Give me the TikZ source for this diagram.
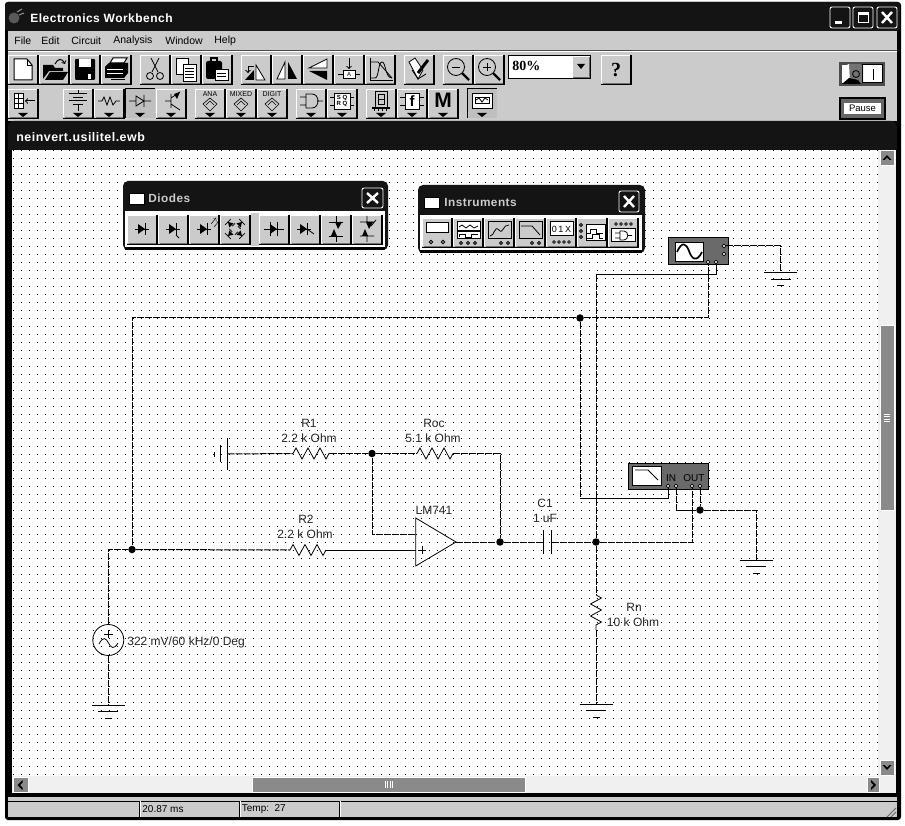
\documentclass[tikz,border=0pt]{standalone}
\usepackage{fontspec}
\setmainfont{Liberation Sans}
\newfontfamily\hardfont{Liberation Serif}
\newfontfamily\spacedfont[LetterSpace=4]{Liberation Sans}
\usetikzlibrary{shapes,arrows,positioning,calc,decorations.pathmorphing}
\definecolor{face}{HTML}{CBCBCB}
\definecolor{barblack}{HTML}{141414}
\definecolor{thumbgray}{HTML}{8A8A8A}
\definecolor{boxgray}{HTML}{6A6A6A}
\newcommand{\fs}[1]{\fontsize{#1}{#1}\selectfont}
% toolbar button, 30 wide and 29 high
\newcommand{\tbbtn}[3]{\begin{scope}[shift={(#1,#2)}]
  \fill[face] (0,0) rectangle (30,29);
  \draw[white] (0.5,28) -- (0.5,0.5) -- (29,0.5);
  \draw[black!55] (1.5,28) -- (29,28) -- (29,1);
  \draw[black,line width=1.1] (30,0) -- (30,29.5) -- (0,29.5);
  #3
\end{scope}}
% same with the small arrow below
\newcommand{\tbdrop}[3]{\tbbtn{#1}{#2}{#3\fill (10,24) -- (20,24) -- (15,28) -- cycle;}}
% diode symbol pointing right
\newcommand{\dio}[2]{\fill (#1-4,#2-5) -- (#1-4,#2+5) -- (#1+3,#2) -- cycle;
  \draw (#1+3,#2-6) -- (#1+3,#2+6) (#1-7,#2) -- (#1+7,#2);}
\newcommand{\gnd}[1]{\draw[bar] ($(#1)+(-16.5,0)$) -- ++(33,0);
  \draw[bar] ($(#1)+(-10,6.5)$) -- ++(20,0);
  \draw[bar] ($(#1)+(-3.5,13)$) -- ++(7,0);}
\begin{document}
\begin{tikzpicture}[x=1pt,y=-1pt,line width=0.8pt]
  \tikzstyle{griddot}=[black, line width=1pt, dash pattern=on 1pt off 7pt]
  \tikzstyle{wire}=[black, line width=1pt, dash pattern=on 7pt off 1pt]
  \tikzstyle{solidwire}=[black, line width=1pt]
  \tikzstyle{bar}=[black, line width=1pt]
  \tikzstyle{junction}=[circle, fill=black, inner sep=0pt, minimum size=7.5pt]
  \tikzstyle{port}=[circle, draw=black, fill=white, line width=0.7pt, inner sep=0pt, minimum size=3.6pt]
  \tikzstyle{partlabel}=[inner sep=0pt, font=\fs{12}, text=black!85]
  \tikzstyle{zigh}=[black, line width=0.8pt, decorate, decoration={zigzag, segment length=12pt, amplitude=5.5pt}]
  \tikzstyle{winbtn}=[draw=white, rounded corners=2pt, line width=0.9pt, fill=barblack]
  \tikzstyle{thumb}=[fill=thumbgray, draw=white, line width=0.7pt]
  \useasboundingbox (0,0) rectangle (905,826);

  % Window frame
  \fill[white] (0,0) rectangle (905,826);
  \fill[black, rounded corners=3pt] (5,2) rectangle (901,820);
  \fill[barblack, rounded corners=3pt] (5,2) rectangle (900,31);
  \fill[face] (8,31) rectangle (897,121);
  \draw[black!70, line width=1pt] (8,50.5) -- (897,50.5);
  \draw[white, line width=1pt] (8,52) -- (897,52);

  % Title bar
  \fill[black!65] (14,18) circle (5.5);
  \draw[black!40, line width=1pt] (17,12) -- (22,9) (19,15) -- (24,13);
  \node[anchor=west, inner sep=0pt, text=white, font=\fs{12}\bfseries\spacedfont] (title) at (30,18) {Electronics Workbench};
  \draw[winbtn] (830,7) rectangle (850,28);
  \draw[winbtn] (853,7) rectangle (873,28);
  \draw[winbtn] (877,7) rectangle (897,28);
  \fill[white] (835,21) rectangle (842,24);
  \draw[white, line width=1pt] (858,13) rectangle (868,23);
  \fill[white] (858,13) rectangle (868,15.5);
  \draw[white, line width=2.4pt] (882,12) -- (892,23) (892,12) -- (882,23);

  % Menu
  \foreach \xpos/\menuname in {14/File, 41/Edit, 71/Circuit, 113/Analysis, 165/Window, 214/Help}
    \node[anchor=west, inner sep=0pt, font=\fs{10.5}] at (\xpos,40.5) {\menuname};

  % Toolbar, first row
  \tbbtn{8}{55}{\draw[fill=white,line width=1pt] (6,4) -- (19,4) -- (24,10) -- (24,25) -- (6,25) -- cycle; \draw (19,4) -- (19,10) -- (24,10);}
  \tbbtn{39}{55}{\fill (4,24) -- (4,10) -- (14,10) -- (16,13) -- (24,13) -- (24,16) -- (10,16) -- cycle;
    \fill (6,25) -- (11,17) -- (29,17) -- (24,25) -- cycle; \draw[line width=1pt,->] (16,9) .. controls (19,3) and (23,3) .. (26,9);}
  \tbbtn{70}{55}{\fill[rounded corners=1pt] (5,4) rectangle (25,25); \fill[white] (9,4) rectangle (21,12); \fill[white] (18,19) rectangle (21,24);}
  \tbbtn{101}{55}{\draw[fill=white,line width=1pt] (9,8) -- (12,3) -- (26,3) -- (23,8) -- cycle;
    \fill (4,12) -- (8,8) -- (27,8) -- (27,18) -- (23,23) -- (4,23) -- cycle; \draw[white] (6,14) -- (22,14) (6,18) -- (22,18); \draw[line width=1pt] (10,25) -- (24,25);}
  \tbbtn{140}{55}{\draw (11,3) -- (18,17) (19,3) -- (12,17); \draw (10,21) circle (3.5) (20,21) circle (3.5);}
  \tbbtn{171}{55}{\draw[fill=white] (5,3) rectangle (17,19); \draw[fill=white] (12,9) rectangle (25,26);
    \foreach \ylin in {13,16,19,22} \draw (14,\ylin) -- (23,\ylin);}
  \tbbtn{202}{55}{\fill[rounded corners=2pt] (4,6) rectangle (20,24); \draw[black,line width=1.2pt,fill=face] (9,3) rectangle (15,7);
    \draw[fill=white] (13,14) rectangle (26,25); \draw (15,18) -- (24,18) (15,21) -- (24,21);}
  \tbbtn{241}{55}{\fill (4,25) -- (13,25) -- (13,15) -- cycle; \draw[fill=white] (15,25) -- (15,10) -- (24,25) -- cycle; \draw[line width=1pt,->] (13,12) -- (7,12) -- (7,18);}
  \tbbtn{272}{55}{\draw[fill=white] (13,7) -- (13,24) -- (5,24) -- cycle; \fill (16,7) -- (16,24) -- (25,24) -- cycle;}
  \tbbtn{303}{55}{\draw[fill=white] (24,4) -- (24,13) -- (6,13) -- cycle; \fill (24,16) -- (24,25) -- (6,16) -- cycle;}
  \tbbtn{334}{55}{\draw[line width=1pt,->] (15,3) -- (15,14); \draw[fill=white] (9,15) rectangle (21,23); \draw (4,19) -- (9,19) (21,19) -- (26,19);
    \node[inner sep=0pt, font=\fs{6}] at (15,19) {A};}
  \tbbtn{365}{55}{\draw (5,3) -- (5,25) -- (28,25); \draw (5,23) -- (10,23) .. controls (14,23) and (13,7) .. (17,7) .. controls (21,7) and (20,23) .. (27,23); \draw (5,7) -- (13,7) -- (27,23);}
  \tbbtn{404}{55}{\draw[fill=white] (5,7) -- (11,3) -- (19,15) -- (14,24) -- cycle; \draw[line width=3pt] (14,18) -- (24,5); \draw (8,15) -- (14,24) -- (22,19);}
  \tbbtn{443}{55}{\draw (13,12) circle (8.5); \draw (9,12) -- (17,12); \draw[line width=2.2pt] (19,18) -- (26,25);}
  \tbbtn{474}{55}{\draw (13,12) circle (8.5); \draw (9,12) -- (17,12) (13,8) -- (13,16); \draw[line width=2.2pt] (19,18) -- (26,25);}
  \draw[fill=white, line width=1pt] (508.5,55.5) rectangle (590.5,78.5);
  \node[anchor=west, inner sep=0pt, font=\fs{14}\bfseries\hardfont] (zoomtext) at (512,66) {80\%};
  \fill[face] (573,57) rectangle (589,77); \draw[black!60] (573,77) -- (589,77) -- (589,57);
  \fill (577,64) -- (585,64) -- (581,69) -- cycle;
  \tbbtn{601}{55}{\node[inner sep=0pt, font=\fs{20}\bfseries\hardfont] at (15,15) {?};}

  % Toolbar, second row
  \tbdrop{8}{89}{\draw[fill=white] (6,4) rectangle (15,19); \draw (6,9) -- (15,9) (6,14) -- (15,14) (10.5,4) -- (10.5,19); \draw[line width=1pt,->] (27,12) -- (17,12);}
  \tbdrop{63}{89}{\draw[line width=1pt] (6,5) -- (24,5) (10,8.5) -- (20,8.5) (6,12) -- (24,12) (10,15.5) -- (20,15.5); \draw (15,1) -- (15,5) (15,16) -- (15,22);}
  \tbdrop{94}{89}{\draw (4,12) -- (8,12) -- (10,8) -- (13,16) -- (16,8) -- (19,16) -- (22,12) -- (26,12);}
  \fill[black!25] (125,89) rectangle (155,118);
  \draw[black, line width=1pt] (125,118) -- (125,89) -- (155,89);
  \begin{scope}[shift={(125,89)}] \draw[line width=0.8pt] (4,12) -- (11,12) (19,12) -- (26,12) (11,7) -- (11,17) -- (19,12) -- cycle (19,6) -- (19,18); \fill (10,24) -- (20,24) -- (15,28) -- cycle; \end{scope}
  \tbdrop{156}{89}{\draw (15,12) -- (9,12) (15,5) -- (15,19) (15,9) -- (24,3) (15,15) -- (24,21); \fill (24,3) -- (18,5) -- (21,10) -- cycle;}
  \foreach \xpos/\binname in {195/ANA, 226/MIXED, 257/DIGIT} {
    \tbdrop{\xpos}{89}{\node[inner sep=0pt, font=\fs{7}] at (15,5) {\binname};
      \draw[line width=0.6pt] (8,15) -- (15,9) -- (22,15) -- (15,22) -- cycle (11,16) -- (15,12) -- (19,16);}
  }
  \tbdrop{296}{89}{\draw (10,5) -- (10,19) -- (16,19) .. controls (24,19) and (24,5) .. (16,5) -- cycle (4,8) -- (10,8) (4,16) -- (10,16) (21,12) -- (27,12);}
  \tbdrop{327}{89}{\draw[fill=white] (7,4) rectangle (23,20); \node[inner sep=0pt, font=\fs{6}\bfseries, align=center] at (15,12) {S Q\\[0.5pt]R Q}; \draw (3,8) -- (7,8) (3,16) -- (7,16) (23,8) -- (27,8) (23,16) -- (27,16);}
  \tbdrop{366}{89}{\draw (9,2) rectangle (21,18); \draw (12,5) rectangle (18,15) (12,10) -- (18,10); \draw[line width=1.2pt] (6,19) -- (24,19); \foreach \xlin in {8,12,16,20} \draw (\xlin,19) -- (\xlin,22);}
  \tbdrop{397}{89}{\draw[fill=white] (8,4) rectangle (22,20); \node[inner sep=0pt, font=\fs{15}\bfseries] at (15,12) {f}; \draw (3,8) -- (8,8) (3,16) -- (8,16) (22,8) -- (27,8) (22,16) -- (27,16);}
  \tbdrop{428}{89}{\node[inner sep=0pt, font=\fs{21}\bfseries] at (15,11) {M};}
  \fill[black!25] (467,89) rectangle (497,118);
  \draw[black, line width=1pt] (467,118) -- (467,89) -- (497,89);
  \begin{scope}[shift={(467,89)}] \draw[fill=white,line width=1pt] (5,5) rectangle (25,20); \draw (8,8) rectangle (22,14); \draw (9,11) -- (12,9) -- (15,13) -- (18,9) -- (21,11); \fill (10,24) -- (20,24) -- (15,28) -- cycle; \end{scope}

  % On/off switch and pause
  \fill[black!70] (839,62) rectangle (885,86);
  \fill[white] (842,65) rectangle (882,83);
  \fill[black!55] (849,64) -- (860,64) -- (863,66) -- (863,83) -- (850,83) -- cycle;
  \fill[white] (842,67) -- (849,64) -- (849,78) -- (842,83) -- cycle;
  \fill[black] (842,84) -- (849,78) -- (858,80) -- (861,84) -- cycle;
  \draw (856,74) circle (3.5); \draw (873,69) -- (873,80);
  \draw[black, line width=1pt] (862.5,65) rectangle (882,83);
  \fill[black] (839,97) rectangle (886,120);
  \fill[black!60] (841,99) rectangle (884,118);
  \fill[white] (844,103) rectangle (881,114.5);
  \node[inner sep=0pt, font=\fs{9.5}] (pause) at (862.5,108.5) {Pause};

  % Document title bar and canvas
  \fill[barblack, rounded corners=6pt] (8,121) rectangle (897,160);
  \fill[black] (8,150) rectangle (897,160);
  \node[anchor=west, inner sep=0pt, text=white, font=\fs{12.4}\bfseries\spacedfont] (docname) at (16,137.5) {neinvert.usilitel.ewb};
  \fill[white] (12,150) rectangle (896,793);

  % Grid
  \foreach \ypos in {150.5,158.5,...,775}
    \draw[griddot] (12.5,\ypos) -- (878,\ypos);

  % Scrollbars
  \fill[black!6] (878,150) rectangle (896,793);
  \fill[black!6] (12,776) rectangle (896,793);
  \fill[thumb] (880,150) rectangle (894,165);
  \fill (882.5,160) -- (887,155) -- (891.5,160) -- (889.5,160) -- (887,157.5) -- (884.5,160) -- cycle;
  \fill[thumb] (880,760) rectangle (894,775);
  \fill (882.5,765) -- (887,770) -- (891.5,765) -- (889.5,765) -- (887,767.5) -- (884.5,765) -- cycle;
  \draw[thumb] (880,325) rectangle (894,510);
  \foreach \ylin in {414,416.5,419,421.5} \draw[white] (884,\ylin) -- (890,\ylin);
  \draw[thumb] (13,777) rectangle (28,792);
  \fill (22.5,780) -- (17.5,785) -- (22.5,790) -- (22.5,787.5) -- (20,785) -- (22.5,782.5) -- cycle;
  \draw[thumb] (867,777) rectangle (879,792);
  \fill (871,780) -- (876,785) -- (871,790) -- (871,787.5) -- (873.5,785) -- (871,782.5) -- cycle;
  \draw[thumb] (252,777) rectangle (525,792);
  \foreach \xlin in {385,387.5,390,392.5} \draw[white] (\xlin,781) -- (\xlin,788);

  % Status bar
  \fill[face] (8,797) rectangle (897,818);
  \draw[black, line width=1pt] (8,801) -- (897,801) (8,817.5) -- (897,817.5);
  \foreach \xlin in {139,239,339} \draw[black, line width=1pt] (\xlin,801) -- (\xlin,817);
  \draw[white] (140,801) -- (140,817) (240,801) -- (240,817) (340,801) -- (340,817);
  \node[anchor=west, inner sep=0pt, font=\fs{10}] (simtime) at (142,809.5) {20.87 ms};
  \node[anchor=west, inner sep=0pt, font=\fs{10}] (temp) at (241.5,809.5) {Temp:\ \ 27};
  \draw[black!60] (887,817) -- (896,808) (891,817) -- (896,812);

  % Diodes window
  \fill[barblack, rounded corners=5pt] (123,181) rectangle (388,250);
  \fill[white] (125,211) rectangle (385,247);
  \fill[black] (125,247) rectangle (385,250);
  \fill[face] (251,213) rectangle (259,246);
  \draw[fill=white, draw=black] (129,193) rectangle (144,204);
  \node[anchor=west, inner sep=0pt, text=black!20, font=\fs{11.8}\bfseries\spacedfont] (diodes) at (148,198.5) {Diodes};
  \draw[winbtn] (362,188) rectangle (383,208);
  \draw[white, line width=2.4pt] (367,193) -- (378,203) (378,193) -- (367,203);
  \foreach \xpos in {127,158,189,220,259,290,321,352} {\tbbtn{\xpos}{215}{}}
  \dio{142}{229}
  \dio{173}{229} \draw (176,235) -- (179,238);
  \dio{204}{229} \draw[line width=0.5pt,->] (211,224) -- (216,218); \draw[line width=0.5pt,->] (214,227) -- (219,221);
  \begin{scope}[shift={(220,215)}]
    \foreach \rotang in {45,135,225,315} {\begin{scope}[shift={(15,14)},rotate=\rotang]
      \fill (-3,5) -- (3,5) -- (0,10) -- cycle; \draw (-4,10) -- (4,10) (-4,4) -- (0,4);
    \end{scope}}
  \end{scope}
  \draw (264,229) -- (284,229) (277,222) -- (277,236);
  \fill (270,224) -- (270,234) -- (277,229) -- cycle; \draw (270,222) -- (270,236);
  \dio{304}{229} \draw (307,229) -- (314,234);
  \begin{scope}[shift={(336,229)},rotate=90]
    \fill (-7,-5) -- (-7,1) -- (0,-2) -- cycle; \fill (0,2) -- (7,-1) -- (7,6) -- cycle;
    \draw (-7,-7) -- (-7,7) (7,-7) -- (7,7) (-13,0) -- (-7,0) (7,0) -- (13,0);
  \end{scope}
  \begin{scope}[shift={(367,229)},rotate=90]
    \fill (-7,-5) -- (-7,1) -- (0,-2) -- cycle; \fill (0,2) -- (7,-1) -- (7,6) -- cycle;
    \draw (-7,-7) -- (-7,7) (7,-7) -- (7,7) (-13,0) -- (-7,0) (7,0) -- (13,0) (3,4) -- (9,9);
  \end{scope}

  % Instruments window
  \fill[barblack, rounded corners=5pt] (418,185) rectangle (645,253);
  \fill[white] (420,215) rectangle (642,250);
  \fill[black] (420,250) rectangle (642,253);
  \draw[fill=white, draw=black] (424,197) rectangle (439,208);
  \node[anchor=west, inner sep=0pt, text=black!20, font=\fs{11.8}\bfseries\spacedfont] (instruments) at (444,202.5) {Instruments};
  \draw[winbtn] (619,191) rectangle (639,212);
  \draw[white, line width=2.4pt] (624,196) -- (634,207) (634,196) -- (624,207);
  \foreach \xpos in {422,453,484,515,546,577,608} {\tbbtn{\xpos}{218}{}}
  \begin{scope}[shift={(422,218)}] \draw[fill=white,line width=1pt] (4,5) rectangle (26,15); \draw (9,24) circle (1.7) (21,24) circle (1.7); \end{scope}
  \begin{scope}[shift={(453,218)}] \draw[fill=white,line width=1pt] (4,4) rectangle (27,13); \draw[fill=white,line width=1pt] (4,14) rectangle (27,21);
    \draw (6,9) -- (9,7) -- (13,10) -- (17,7) -- (21,10) -- (25,8); \draw (6,19) -- (6,16) -- (12,16) -- (12,19) -- (18,19) -- (18,16) -- (25,16); \foreach \xc in {8,15,22} \draw (\xc,25) circle (1.5); \end{scope}
  \begin{scope}[shift={(484,218)}] \draw[fill=face,line width=1pt] (4,4) rectangle (27,21); \draw (6,18) .. controls (11,18) and (10,7) .. (15,12) .. controls (19,17) and (19,6) .. (25,7); \draw (17,25) circle (1.5) (24,25) circle (1.5); \end{scope}
  \begin{scope}[shift={(515,218)}] \draw[fill=face,line width=1pt] (4,4) rectangle (27,21); \draw (6,8) -- (17,8) -- (25,17); \draw (17,25) circle (1.5) (24,25) circle (1.5); \end{scope}
  \begin{scope}[shift={(546,218)}] \draw[fill=white,line width=1pt] (4,4) rectangle (27,18); \node[inner sep=0pt, font=\fs{9}] at (15.5,11) {0\,1\,X}; \foreach \xc in {8,13,18,23} \draw (\xc,24) circle (1.4); \end{scope}
  \begin{scope}[shift={(577,218)}] \draw[fill=white,line width=1pt] (9,7) rectangle (28,23); \draw (10,15) -- (13,15) -- (13,11) -- (19,11) -- (19,15) -- (26,15) (10,20) -- (15,20) -- (15,16) -- (22,16) -- (22,20) -- (26,20); \foreach \yc in {7,13,19} \draw (4,\yc) circle (1.5); \end{scope}
  \begin{scope}[shift={(608,218)}] \foreach \xc in {8,13,18,23} \draw (\xc,6) circle (1.4); \draw[fill=white,line width=1pt] (3,11) rectangle (27,24); \draw (12,13) -- (12,22) -- (16,22) .. controls (21,22) and (21,13) .. (16,13) -- cycle (7,15) -- (12,15) (7,20) -- (12,20) (20,17.5) -- (24,17.5); \end{scope}

  % Instruments on the canvas
  \node[draw=black, fill=boxgray, line width=1pt, minimum width=60pt, minimum height=27pt, inner sep=0pt] (scope) at (698,251.5) {};
  \draw[fill=white, line width=0.8pt] (675,242) rectangle (703,261);
  \draw[line width=1.7pt] (677,252) .. controls (682,241) and (686,243) .. (689,251) .. controls (692,260) and (697,262) .. (702,252);
  \node[port] (sca) at (708,262) {};
  \node[port] (scb) at (716,262) {};
  \node[port] (sct) at (724,246) {};
  \node[port] (sce) at (724,254) {};
  \node[draw=black, fill=boxgray, line width=1pt, minimum width=80pt, minimum height=26pt, inner sep=0pt] (bode) at (668,476) {};
  \draw[fill=white, line width=0.8pt] (632,466) rectangle (661,485);
  \draw (635,470) -- (648,470) -- (658,480);
  \node[inner sep=0pt, font=\fs{10}] (bodein) at (671,478) {IN};
  \node[inner sep=0pt, font=\fs{10}] (bodeout) at (694,478) {OUT};
  \node[port] (inp) at (668,486) {};
  \node[port] (inn) at (676,486) {};
  \node[port] (outp) at (692,486) {};
  \node[port] (outn) at (700,486) {};

  % Junctions
  \node[junction] (ja) at (132,549.5) {};
  \node[junction] (jb) at (580,318) {};
  \node[junction] (jc) at (372,453.5) {};
  \node[junction] (jd) at (500,542) {};
  \node[junction] (je) at (596,542) {};
  \node[junction] (jf) at (700,510) {};

  % Circuit parts
  \node[circle, draw=black, line width=0.8pt, minimum size=31pt, inner sep=0pt] (vs) at (108.3,640) {};
  \draw (104,634) -- (113,634) (108.5,630) -- (108.5,638);
  \draw (99,644) .. controls (103,636) and (106,638) .. (108.5,643) .. controls (111,648) and (114,650) .. (118,643);
  \coordinate (gvs) at (108.3,705);
  \coordinate (gr) at (596,704);
  \coordinate (gb) at (756,560);
  \coordinate (gs) at (780.5,273);
  \gnd{gvs} \gnd{gr} \gnd{gb} \gnd{gs}
  \coordinate (batt) at (227.5,454);
  \draw[bar] (214,452) -- (214,457) (220.5,445) -- (220.5,462) (batt) ++(0,-16) -- ++(0,32);
  \coordinate (ra) at (293,453.5); \coordinate (rb) at (330,453.5);
  \coordinate (rca) at (417,453.5); \coordinate (rcb) at (453,453.5);
  \coordinate (rda) at (290,550); \coordinate (rdb) at (326,550);
  \coordinate (rna) at (596,595); \coordinate (rnb) at (596,630);
  \draw[zigh] (ra) -- (rb);
  \draw[zigh] (rca) -- (rcb);
  \draw[zigh] (rda) -- (rdb);
  \draw[zigh] (rna) -- (rnb);
  \coordinate (ca) at (543.5,542); \coordinate (cb) at (551.5,542);
  \draw[bar] (ca) ++(0,-12) -- ++(0,24) (cb) ++(0,-12) -- ++(0,24);
  \coordinate (opm) at (415.7,534); \coordinate (opp) at (415.7,550); \coordinate (opo) at (456,542);
  \draw[black, line width=0.8pt] (415.7,518) -- (opo) -- (415.7,566) -- cycle;
  \draw (418,550) -- (426,550) (422,546) -- (422,554);
  \coordinate (vsc) at (108.3,549.5);
  \coordinate (scc) at (596,275);
  \coordinate (bcc) at (580,498);

  % Wires
  \draw[wire] (vs) -- (vsc) -- (ja);
  \draw[wire] (vs) -- (gvs);
  \draw[wire] (ja) -- (rda);
  \draw[wire] (rdb) -- (opp);
  \draw[wire] (ja) |- (jb);
  \draw[wire] (jb) -| (sca);
  \draw[wire] (batt) -- (ra);
  \draw[wire] (rb) -- (jc);
  \draw[wire] (jc) -- (rca);
  \draw[wire] (rcb) -| (jd);
  \draw[wire] (jc) |- (opm);
  \draw[wire] (opo) -- (jd);
  \draw[wire] (jd) -- (ca);
  \draw[wire] (cb) -- (je);
  \draw[wire] (je) -- (rna);
  \draw[wire] (rnb) -- (gr);
  \draw[wire] (je) -| (outp);
  \draw[wire] (je) -- (scc);
  \draw[solidwire] (scc) -| (scb);
  \draw[wire] (jb) -- (bcc);
  \draw[solidwire] (bcc) -| (inp);
  \draw[wire] (inn) |- (jf);
  \draw[wire] (outn) -- (jf);
  \draw[wire] (jf) -| (gb);
  \draw[wire] (sct) -| (gs);

  % Part labels
  \node[partlabel] (lra) at (309,423) {R1};
  \node[partlabel] (lrb) at (309,438) {2.2 k Ohm};
  \node[partlabel] (lrc) at (434,423) {Roc};
  \node[partlabel] (lrd) at (433,438) {5.1 k Ohm};
  \node[partlabel] (lre) at (306,519) {R2};
  \node[partlabel] (lrf) at (305,534) {2.2 k Ohm};
  \node[partlabel] (lop) at (434,510) {LM741};
  \node[partlabel] (lca) at (545,503) {C1};
  \node[partlabel] (lcb) at (545,518) {1 uF};
  \node[partlabel] (lrn) at (634,607) {Rn};
  \node[partlabel] (lro) at (633,622) {10 k Ohm};
  \node[partlabel, anchor=west] (lvs) at (127,642) {322 mV/60 kHz/0 Deg};
\end{tikzpicture}
\end{document}
